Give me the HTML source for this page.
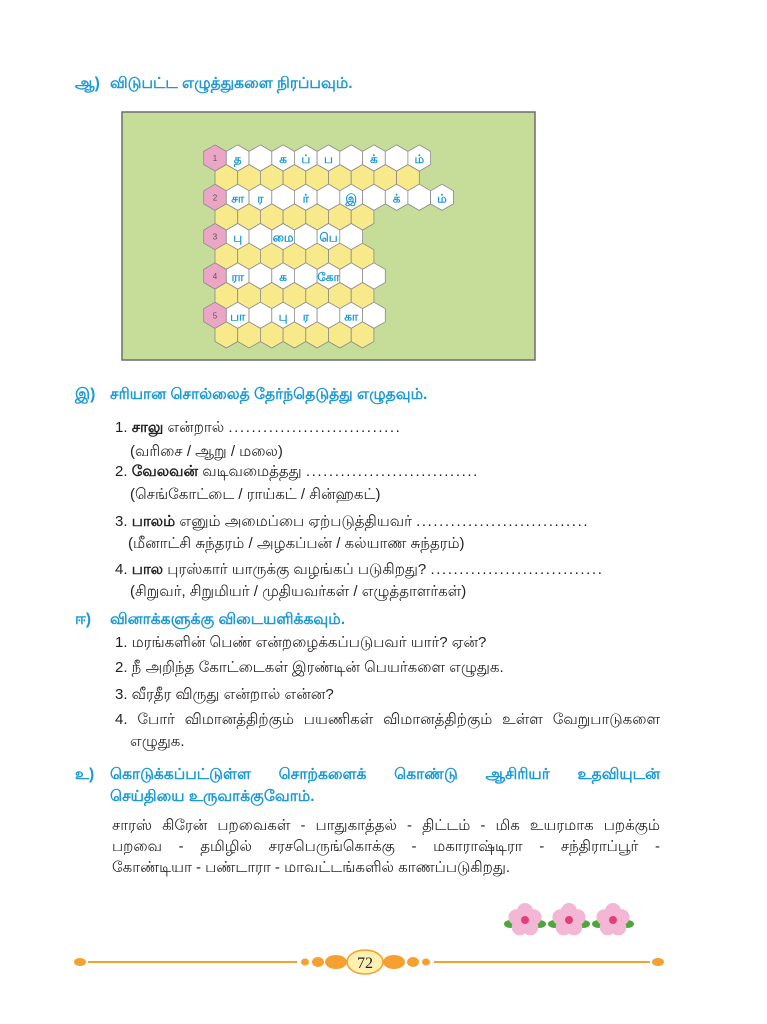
<!DOCTYPE html>
<html><head><meta charset="utf-8">
<style>
body{margin:0;width:767px;height:1024px;background:#fff;position:relative;overflow:hidden;font-family:"Liberation Sans","Noto Sans CJK JP",sans-serif;color:#231f20}
.t{position:absolute;white-space:nowrap;font-size:15px;line-height:18px}
.h{color:#1b9ad7;font-weight:bold;font-size:15.5px}
b{font-weight:bold}
.d{letter-spacing:1.6px}
.j{width:548px;text-align:justify;text-align-last:justify;white-space:normal}
</style></head><body>
<div class="t h" style="left:75px;top:75px">ஆ)</div>
<div class="t h" style="left:110px;top:75px">விடுபட்ட எழுத்துகளை நிரப்பவும்.</div>

<svg id="puz" width="767" height="380" style="position:absolute;left:0;top:0">
<rect x="122" y="112" width="413" height="248" fill="#c6dd99" stroke="#6d6d6d" stroke-width="1.5"/>
</svg>

<div class="t h" style="left:75px;top:386px">இ)</div>
<div class="t h" style="left:110px;top:386px">சரியான சொல்லைத் தேர்ந்தெடுத்து எழுதவும்.</div>
<div class="t" style="left:115px;top:419px">1. <b>சாலு</b> என்றால் <span class="d">..............................</span></div>
<div class="t" style="left:130px;top:443px">(வரிசை / ஆறு / மலை)</div>
<div class="t" style="left:115px;top:463px">2. <b>வேலவன்</b> வடிவமைத்தது <span class="d">..............................</span></div>
<div class="t" style="left:130px;top:486px">(செங்கோட்டை / ராய்கட் / சின்ஹகட்)</div>
<div class="t" style="left:115px;top:513px">3. <b>பாலம்</b> எனும் அமைப்பை ஏற்படுத்தியவர் <span class="d">..............................</span></div>
<div class="t" style="left:128px;top:535px">(மீனாட்சி சுந்தரம் / அழகப்பன் / கல்யாண சுந்தரம்)</div>
<div class="t" style="left:115px;top:561px">4. <b>பால</b> புரஸ்கார் யாருக்கு வழங்கப் படுகிறது? <span class="d">..............................</span></div>
<div class="t" style="left:130px;top:583px">(சிறுவர், சிறுமியர் / முதியவர்கள் / எழுத்தாளர்கள்)</div>

<div class="t h" style="left:75px;top:611px">ஈ)</div>
<div class="t h" style="left:110px;top:611px">வினாக்களுக்கு விடையளிக்கவும்.</div>
<div class="t" style="left:115px;top:634px">1. மரங்களின் பெண் என்றழைக்கப்படுபவர் யார்? ஏன்?</div>
<div class="t" style="left:115px;top:659px">2. நீ அறிந்த கோட்டைகள் இரண்டின் பெயர்களை எழுதுக.</div>
<div class="t" style="left:115px;top:686px">3. வீரதீர விருது என்றால் என்ன?</div>
<div class="t" style="left:115px;top:711px;width:545px;text-align:justify;text-align-last:justify;white-space:normal">4. போர் விமானத்திற்கும் பயணிகள் விமானத்திற்கும் உள்ள வேறுபாடுகளை</div>
<div class="t" style="left:130px;top:733px">எழுதுக.</div>

<div class="t h" style="left:75px;top:766px">உ)</div>
<div class="t h" style="left:110px;top:766px;width:550px;text-align:justify;text-align-last:justify;white-space:normal">கொடுக்கப்பட்டுள்ள சொற்களைக் கொண்டு ஆசிரியர் உதவியுடன்</div>
<div class="t h" style="left:110px;top:788px">செய்தியை உருவாக்குவோம்.</div>
<div class="t j" style="left:112px;top:817px">சாரஸ் கிரேன் பறவைகள் - பாதுகாத்தல் - திட்டம் - மிக உயரமாக பறக்கும்</div>
<div class="t j" style="left:112px;top:838px">பறவை - தமிழில் சரசபெருங்கொக்கு - மகாராஷ்டிரா - சந்திராப்பூர் -</div>
<div class="t" style="left:112px;top:859px">கோண்டியா - பண்டாரா - மாவட்டங்களில் காணப்படுகிறது.</div>

<svg width="140" height="40" style="position:absolute;left:503px;top:900px">
<g id="fl"></g>
</svg>

<svg width="767" height="40" style="position:absolute;left:0;top:942px">
<ellipse cx="80" cy="20" rx="6" ry="4" fill="#f5a030"/>
<line x1="88" y1="20" x2="297" y2="20" stroke="#f5a030" stroke-width="2"/>
<ellipse cx="305" cy="20" rx="4" ry="3.5" fill="#f5a030"/>
<ellipse cx="318" cy="20" rx="6" ry="5" fill="#f5a030"/>
<ellipse cx="336" cy="20" rx="11" ry="7" fill="#f5a030"/>
<ellipse cx="394" cy="20" rx="11" ry="7" fill="#f5a030"/>
<ellipse cx="413" cy="20" rx="6" ry="5" fill="#f5a030"/>
<ellipse cx="426" cy="20" rx="4" ry="3.5" fill="#f5a030"/>
<line x1="434" y1="20" x2="650" y2="20" stroke="#f5a030" stroke-width="2"/>
<ellipse cx="658" cy="20" rx="6" ry="4" fill="#f5a030"/>
<ellipse cx="365" cy="20" rx="18" ry="12" fill="#fdf0b0" stroke="#f5a030" stroke-width="1.5"/>
<text x="365" y="26" text-anchor="middle" font-family="Liberation Serif" font-size="16" fill="#231f20">72</text>
</svg>

<script>
const rowLetters=[
 ["த","","க","ப்","ப","","க்","","ம்"],
 ["சா","ர","","ர்","","இ","","க்","","ம்"],
 ["பு","","மை","","பெ",""],
 ["ரா","","க","","கோ","",""],
 ["பா","","பு","ர","","கா",""]
];
const yellowCounts=[9,7,7,7,7];
const svg=document.getElementById('puz');
const NS='http://www.w3.org/2000/svg';
const W=22.7,H=W*2/Math.sqrt(3),X0=215,Y0=158,VS=0.75*H;
function hex(cx,cy,fill){
 const p=[];
 for(let i=0;i<6;i++){const a=Math.PI/180*(60*i-90);p.push((cx+H/2*Math.cos(a)).toFixed(1)+','+(cy+H/2*Math.sin(a)).toFixed(1));}
 const e=document.createElementNS(NS,'polygon');
 e.setAttribute('points',p.join(' '));
 e.setAttribute('fill',fill);
 e.setAttribute('stroke','#8a8a8a');
 e.setAttribute('stroke-width','0.8');
 svg.appendChild(e);
 return e;
}
rowLetters.forEach((row,r)=>{
 const cy=Y0+r*2*VS;
 const pk=hex(X0,cy,'#eba6c6');
 
 
 const n=document.createElementNS(NS,'text');
 n.setAttribute('x',X0);n.setAttribute('y',cy+3);n.setAttribute('text-anchor','middle');
 n.setAttribute('font-size','8');n.setAttribute('fill','#555');n.textContent=r+1;
 
 
 svg.appendChild(n);
 row.forEach((L,k)=>{
  const cx=X0+(k+1)*W;
  const c=hex(cx,cy,'#ffffff');
  
  
  if(L){const t=document.createElementNS(NS,'text');
   t.setAttribute('x',cx);t.setAttribute('y',cy+5);t.setAttribute('text-anchor','middle');
   t.setAttribute('font-size','12');t.setAttribute('font-weight','bold');t.setAttribute('fill','#1b9ad7');
   t.textContent=L;
   
   
   svg.appendChild(t);}
 });
 for(let k=0;k<yellowCounts[r];k++){
  const y=hex(X0+W/2+k*W,cy+VS,'#f8e98a');
  
  
 }
});
const fl=document.getElementById('fl');
[22,66,110].forEach(cx=>{
 [[-14,4],[14,4]].forEach(([dx,dy])=>{const l=document.createElementNS(NS,'ellipse');l.setAttribute('cx',cx+dx);l.setAttribute('cy',20+dy);l.setAttribute('rx',7);l.setAttribute('ry',4);l.setAttribute('fill','#4aa83a');fl.appendChild(l);});
 for(let i=0;i<5;i++){const a=Math.PI*2*i/5-Math.PI/2;const p=document.createElementNS(NS,'circle');
  p.setAttribute('cx',cx+9*Math.cos(a));p.setAttribute('cy',20+9*Math.sin(a));p.setAttribute('r',8);p.setAttribute('fill','#f3b6d4');fl.appendChild(p);}
 const c=document.createElementNS(NS,'circle');c.setAttribute('cx',cx);c.setAttribute('cy',20);c.setAttribute('r',4);c.setAttribute('fill','#e0407a');fl.appendChild(c);
});
</script>
</body></html>
